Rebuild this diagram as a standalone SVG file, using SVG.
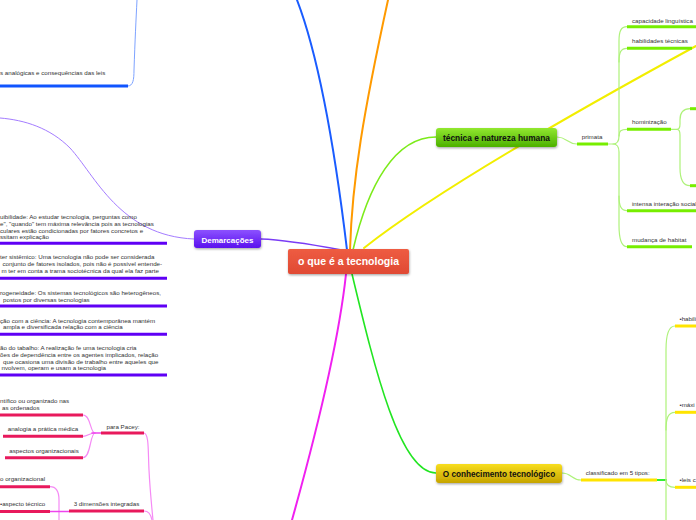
<svg xmlns="http://www.w3.org/2000/svg" width="696" height="520" viewBox="0 0 696 520">
<style>
text{font-family:"Liberation Sans",Arial,sans-serif}
.s{font-size:6.2px;fill:#333}
.nb{font-weight:bold}
.c{fill:none;stroke-linecap:round}
.ul{fill:none;stroke-width:3;stroke-linecap:butt}
.pur{stroke:#5f00f5}
.blu{stroke:#1055ff}
.pnk{stroke:#e8195c}
.grn{stroke:#77ee00}
.yel{stroke:#ffe400}
.tg{stroke:#aef27a;stroke-width:1.2}
.tm{stroke:#f58af5;stroke-width:1.2}
</style>
<defs>
<linearGradient id="gRed" x1="0" y1="0" x2="0" y2="1"><stop offset="0" stop-color="#ee5c42"/><stop offset="1" stop-color="#e04a33"/></linearGradient>
<linearGradient id="gPur" x1="0" y1="0" x2="0" y2="1"><stop offset="0" stop-color="#8c52ff"/><stop offset="1" stop-color="#5a10ee"/></linearGradient>
<linearGradient id="gGrn" x1="0" y1="0" x2="0" y2="1"><stop offset="0" stop-color="#92e830"/><stop offset="1" stop-color="#4cb000"/></linearGradient>
<linearGradient id="gYel" x1="0" y1="0" x2="0" y2="1"><stop offset="0" stop-color="#f8de1e"/><stop offset="1" stop-color="#c6a400"/></linearGradient>
<filter id="sh" x="-10%" y="-20%" width="120%" height="150%"><feDropShadow dx="0.5" dy="1.2" stdDeviation="0.8" flood-color="#000" flood-opacity="0.35"/></filter>
</defs>
<rect width="696" height="520" fill="#fff"/>

<g id="connectors">
<path class="c" stroke="#1a5cff" stroke-width="2" d="M347,250 C335,150 320,60 297,0"/>
<path class="c" stroke="#ff9a00" stroke-width="2" d="M350,250 C352,180 364,110 388,0"/>
<path class="c" stroke="#7ceb1a" stroke-width="1.6" d="M353,250 C368,185 395,137 436,137"/>
<path class="c" stroke="#f2ee00" stroke-width="2" d="M364,248 Q450,180 696,46"/>
<path class="c" stroke="#7a3cf5" stroke-width="1.3" d="M261,239 C290,240 320,246 347,251"/>
<path class="c" stroke="#f020f0" stroke-width="2" d="M346,274 C340,330 320,420 292,520"/>
<path class="c" stroke="#22e522" stroke-width="1.6" d="M352,274 C375,370 400,473 436,473"/>
<path class="c" stroke="#a47cff" stroke-width="1" d="M194,239 C120,236 95,175 70,148 C50,128 25,120 0,118"/>
<path class="c" stroke="#7ea3ff" stroke-width="1" d="M128,86 C133,86 134,80 134,70 C135,40 136,20 137,0"/>
<path class="c tg" d="M557,137 C567,137 567,144 577,144"/>
<path class="c tg" d="M608,144 L613,144 C617,144 619,141 619,136 L619,41 C619,31 621,26.7 627,26.7"/>
<path class="c tg" d="M619,62 C619,52 621,48.3 627,48.3"/>
<path class="c tg" d="M619,136 C619,131 621,129.3 627,129.3"/>
<path class="c tg" d="M613,144 C617,144 619,147 619,152 L619,225 C619,236 621,246.7 627,246.7"/>
<path class="c tg" d="M619,196 C619,206 621,210.7 627,210.7"/>
<path class="c tg" d="M671,129.3 L677,129.3 C679,129.3 680,127 680,124 L680,120 C680,112 684,108.7 690,108.7"/>
<path class="c tg" d="M677,129.3 C679,129.3 680,132 680,135 L680,168 C680,180 684,185.7 690,185.7"/>
<path class="c tg" d="M562,473 C572,473 571,480 581,480"/>
<path class="c" stroke="#33ee33" stroke-width="2.2" d="M657,480 L666,480"/>
<path class="c tg" d="M666,480 L666,350 C666,336 668,326 675,326"/>
<path class="c tg" d="M666,430 C666,418 668,412.3 675,412.3"/>
<path class="c tg" d="M666,480 C666,485 669,487.3 675,487.3"/>
<path class="c tg" d="M666,480 L666,520"/>
<path class="c tm" d="M83,415 C91,415 90,433 95,433"/>
<path class="c tm" d="M83,436.3 C88,436.3 89,433 95,433"/>
<path class="c tm" d="M83,457.7 C91,457.7 90,433 95,433"/>
<path class="c" stroke="#ee44ee" stroke-width="1.6" d="M92,433 L101,433"/>
<path class="c tm" d="M144,433 C149,434 148,450 149,470 C150,490 152,510 153,520"/>
<path class="c tm" d="M144,511 C149,511 151,515 152,520"/>
<path class="c tm" d="M50,486.7 C56,486.7 59,492 59,500 L59,520"/>
<path class="c" stroke="#ee44ee" stroke-width="1.4" d="M50,511.5 L69,511.5"/>
</g>

<g id="n-tl">
<text class="s" x="0" y="74.7">s analógicas e consequências das leis</text>
<line class="ul blu" x1="0" y1="86" x2="128" y2="86"/>
</g>

<g id="n-dem1">
<text class="s" x="0" y="218.5">uibilidade: Ao estudar tecnologia, perguntas como</text>
<text class="s" x="0" y="225.5">e", "quando" tem máxima relevância pois as tecnologias</text>
<text class="s" x="0" y="232.5">culares estão condicionadas por fatores concretos e</text>
<text class="s" x="0" y="239.3">ssitam explicação</text>
<line class="ul pur" x1="0" y1="243.3" x2="167" y2="243.3"/>
</g>
<g id="n-dem2">
<text class="s" x="0" y="259.3">ter sistêmico: Uma tecnologia não pode ser considerada</text>
<text class="s" x="2.5" y="266.3">conjunto de fatores isolados, pois não é possível entende-</text>
<text class="s" x="1.5" y="273">m ter em conta a trama sociotécnica da qual ela faz parte</text>
<line class="ul pur" x1="0" y1="278.3" x2="167" y2="278.3"/>
</g>
<g id="n-dem3">
<text class="s" x="0" y="295.3">rogeneidade: Os sistemas tecnológicos são heterogêneos,</text>
<text class="s" x="3" y="301.8">postos por diversas tecnologias</text>
<line class="ul pur" x1="0" y1="306" x2="167" y2="306"/>
</g>
<g id="n-dem4">
<text class="s" x="0" y="322.7">ção com a ciência: A tecnologia contemporânea mantém</text>
<text class="s" x="3" y="329.3">ampla e diversificada relação com a ciência</text>
<line class="ul pur" x1="0" y1="334.3" x2="167" y2="334.3"/>
</g>
<g id="n-dem5">
<text class="s" x="0" y="350.3">ão do tabalho: A realização fe uma tecnologia cria</text>
<text class="s" x="0" y="357">ões de dependência entre os agentes implicados, relação</text>
<text class="s" x="3" y="363.7">que ocasiona uma divisão de trabalho entre aqueles que</text>
<text class="s" x="1.5" y="370.3">nvolvem, operam e usam a tecnologia</text>
<line class="ul pur" x1="0" y1="375" x2="167" y2="375"/>
</g>

<g id="n-pacey1">
<text class="s" x="0" y="403">ntífico ou organizado nas</text>
<text class="s" x="2" y="410.3">as ordenados</text>
<line class="ul pnk" x1="0" y1="415" x2="83" y2="415"/>
</g>
<g id="n-pacey2">
<text class="s" x="43" y="431.3" text-anchor="middle">analogia a prática médica</text>
<line class="ul pnk" x1="3" y1="436.3" x2="83" y2="436.3"/>
</g>
<g id="n-pacey3">
<text class="s" x="44" y="453" text-anchor="middle">aspectos organizacionais</text>
<line class="ul pnk" x1="5" y1="457.7" x2="83" y2="457.7"/>
</g>
<g id="n-pacey">
<text class="s" x="123" y="428.7" text-anchor="middle">para Pacey:</text>
<line class="ul pnk" x1="101" y1="433" x2="144" y2="433"/>
</g>
<g id="n-org">
<text class="s" x="0" y="481">o organizacional</text>
<line class="ul pnk" x1="0" y1="486.7" x2="50" y2="486.7"/>
</g>
<g id="n-tec">
<text class="s" x="0" y="506.3">•aspecto técnico</text>
<line class="ul pnk" x1="0" y1="511.5" x2="50" y2="511.5"/>
</g>
<g id="n-3dim">
<text class="s" x="106.5" y="505.5" text-anchor="middle">3 dimensões integradas</text>
<line class="ul pnk" x1="69" y1="511" x2="144" y2="511"/>
</g>

<g id="n-primata">
<text class="s" x="581.7" y="139.3">primata</text>
<line class="ul grn" x1="577" y1="144" x2="608" y2="144"/>
</g>
<g id="n-cap">
<text class="s" x="632" y="22.7">capacidade linguística</text>
<line class="ul grn" x1="627" y1="26.7" x2="696" y2="26.7"/>
</g>
<g id="n-hab">
<text class="s" x="632" y="43.3">habilidades técnicas</text>
<line class="ul grn" x1="627" y1="48.3" x2="692" y2="48.3"/>
</g>
<g id="n-hom">
<text class="s" x="632" y="124.3">hominização</text>
<line class="ul grn" x1="627" y1="129.3" x2="671" y2="129.3"/>
</g>
<g id="n-hom1"><line class="ul grn" x1="690" y1="108.7" x2="696" y2="108.7"/></g>
<g id="n-hom2"><line class="ul grn" x1="690" y1="185.7" x2="696" y2="185.7"/></g>
<g id="n-int">
<text class="s" x="632" y="206">intensa interação social</text>
<line class="ul grn" x1="627" y1="210.7" x2="696" y2="210.7"/>
</g>
<g id="n-mud">
<text class="s" x="632" y="242">mudança de habitat</text>
<line class="ul grn" x1="627" y1="246.7" x2="692" y2="246.7"/>
</g>

<g id="n-class">
<text class="s" x="585.7" y="475.3">classificado em 5 tipos:</text>
<line class="ul yel" x1="581" y1="480" x2="657" y2="480"/>
</g>
<g id="n-habili">
<text class="s" x="679.5" y="321">•habili</text>
<line class="ul yel" x1="675" y1="326" x2="696" y2="326"/>
</g>
<g id="n-maxi">
<text class="s" x="679.5" y="407">•máxi</text>
<line class="ul yel" x1="675" y1="412.3" x2="696" y2="412.3"/>
</g>
<g id="n-leis">
<text class="s" x="679.5" y="482">•leis c</text>
<line class="ul yel" x1="675" y1="487.3" x2="696" y2="487.3"/>
</g>

<g id="n-dem">
<rect x="194" y="230" width="67" height="18" rx="3" fill="url(#gPur)" filter="url(#sh)"/>
<text class="nb" x="227.5" y="242.8" font-size="8" fill="#fff" text-anchor="middle">Demarcações</text>
</g>
<g id="n-tecnica">
<rect x="436" y="128" width="121" height="19" rx="3" fill="url(#gGrn)" filter="url(#sh)"/>
<text class="nb" x="496.5" y="141.3" font-size="8.4" fill="#111" text-anchor="middle">técnica e natureza humana</text>
</g>
<g id="n-conh">
<rect x="436" y="464" width="126" height="19" rx="3" fill="url(#gYel)" filter="url(#sh)"/>
<text class="nb" x="499" y="477.3" font-size="8.2" fill="#111" text-anchor="middle">O conhecimento tecnológico</text>
</g>
<g id="n-center">
<rect x="288" y="249" width="121" height="25" rx="2" fill="url(#gRed)" filter="url(#sh)"/>
<text class="nb" x="348.5" y="265.3" font-size="10.5" fill="#fff" text-anchor="middle">o que é a tecnologia</text>
</g>
</svg>
